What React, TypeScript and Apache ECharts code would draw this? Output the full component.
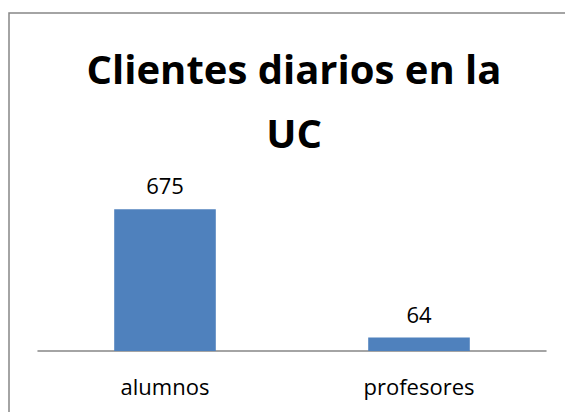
import React, { useEffect, useRef } from "react";
import * as echarts from "echarts";

const categories = ["alumnos", "profesores"];
const clientes = [675, 64];
const titleText = "Clientes diarios en la\nUC";

export default function App() {
  const ref = useRef<HTMLDivElement>(null);
  useEffect(() => {
    if (!ref.current) return;
    const chart = echarts.init(ref.current, null, { renderer: "svg" });
    chart.setOption({
      animation: false,
      backgroundColor: "#ffffff",
      title: {
        text: titleText,
        left: 289,
        top: 31,
        textAlign: "center",
        textStyle: {
          fontFamily: "'Open Sans', sans-serif",
          fontWeight: "bold",
          fontSize: 40,
          lineHeight: 64,
          color: "#000000",
        },
      },
      graphic: [
        {
          type: "rect",
          shape: { x: 9, y: 13, width: 700, height: 600 },
          style: { fill: "none", stroke: "#868686", lineWidth: 1.5 },
          silent: true,
          z: -1,
        },
      ],
      grid: { left: 38, right: 19, top: 183, bottom: 61 },
      xAxis: {
        type: "category",
        data: categories,
        axisLine: { show: true, lineStyle: { color: "#868686", width: 1.5 } },
        axisTick: { show: false },
        axisLabel: {
          fontFamily: "'Open Sans', sans-serif",
          fontSize: 22,
          color: "#000000",
          margin: 24,
        },
      },
      yAxis: {
        type: "value",
        min: 0,
        max: 800,
        show: false,
        splitLine: { show: false },
      },
      series: [
        {
          type: "bar",
          data: clientes,
          barWidth: "40%",
          itemStyle: { color: "#4F81BD" },
          label: {
            show: true,
            position: "top",
            distance: 13,
            fontFamily: "'Open Sans', sans-serif",
            fontSize: 22,
            color: "#000000",
          },
        },
      ],
    });
    return () => chart.dispose();
  }, []);
  return (
    <div
      ref={ref}
      style={{ position: "absolute", left: 0, top: 0, width: 565, height: 412 }}
    />
  );
}
